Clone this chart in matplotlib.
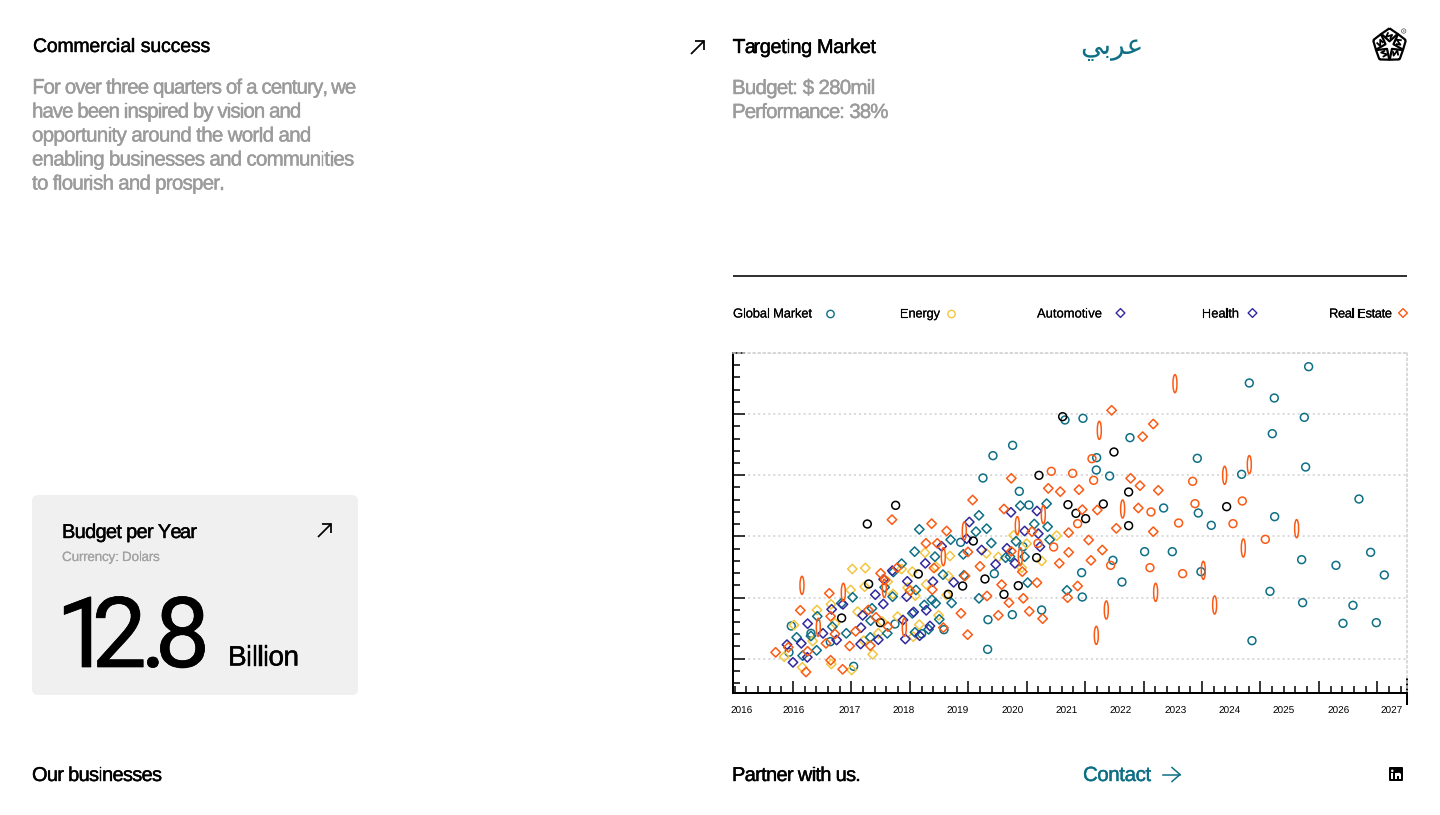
import numpy as np
import matplotlib
matplotlib.use("Agg")
import matplotlib.pyplot as plt
from matplotlib.text import Text
from matplotlib.transforms import IdentityTransform, Bbox, Affine2D
from matplotlib.patches import FancyBboxPatch, Rectangle, Polygon, Circle
from matplotlib.path import Path
from matplotlib.ticker import FixedLocator, NullFormatter
import matplotlib.patheffects as pe

plt.rcParams["text.hinting"] = "no_hinting"
plt.rcParams["text.hinting_factor"] = 1

FONT = "Liberation Sans"
TEAL = "#0e6f85"
YELLOW = "#f3c63f"
NAVY = "#30289c"
ORANGE = "#fb5a14"
GREY = "#9b9b9b"

# Values, in chart units (x 0-2022, y 0-1020)
global_market_x = [174,167,233,291,361,485,565,632,682,763,764,783,749,779,838,858,887,837,925,995,869,1049,1190,1090,1089,1129,1392,1525,1548,1623,1726,1713,1617,1717,1877,1291,1395,1434,1624,1234,1317,1139,1045,1166,1047,1403,1705,1808,1912,1953,1610,1708,1859,1829,1929,1556]
global_market_y = [201,122,179,154,80,207,178,190,452,131,220,358,645,712,743,605,564,235,249,819,439,824,766,706,669,651,704,656,930,885,979,827,778,678,582,555,540,503,529,424,424,398,361,333,288,364,400,383,422,354,305,271,263,209,211,157]

black_x = [325,402,406,487,441,555,645,688,720,755,812,855,910,917,988,1004,1028,1142,1186,1057,1110,1186,1480]
black_y = [225,507,327,563,211,357,296,321,456,342,296,322,406,653,829,565,539,723,603,523,567,502,559]

outlier_x = [1325,1098,1548,1474,1168,1690,1530,1410,1267,1444,1119,1089,206,330,255,453,513,630,693,852,861,930]
outlier_y = [928,788,685,653,552,493,435,368,302,264,249,173,323,302,197,314,197,409,486,502,409,535]

orange_circle_x = [1018,1076,1081,1033,1378,1385,1253,1336,1527,1499,1596,1132,1250,1348,954,961,914]
orange_circle_y = [659,703,638,508,635,568,543,510,576,508,461,383,376,358,665,438,449]

real_estate_x = [1135,1260,1228,1192,1220,1275,1037,1047,1092,1215,1149,1260,1066,1107,1073,1033,1006,1006,1003,127,201,165,223,218,292,328,278,305,292,288,349,367,411,405,428,464,442,455,476,492,530,578,595,612,602,597,640,630,683,695,704,718,703,740,761,795,805,827,834,812,834,870,888,867,896,911,928,945,978,981]
real_estate_y = [848,807,769,644,622,608,610,550,549,555,494,484,459,429,398,321,481,422,286,122,248,137,125,63,98,71,149,177,230,299,141,185,142,249,227,199,359,339,520,376,307,449,508,449,375,310,486,196,239,351,423,579,175,380,291,233,325,271,425,552,644,284,245,364,484,331,223,614,389,604]

energy_x = [153,182,207,238,251,293,294,305,355,352,357,396,394,373,391,418,435,447,463,479,493,505,523,537,546,540,558,575,579,608,616,640,645,650,759,795,841,865,880,925,970]
energy_y = [109,204,77,156,249,266,87,209,69,309,372,375,319,244,157,116,179,214,334,297,229,372,316,364,292,169,205,421,326,379,233,294,351,411,419,408,473,376,448,396,472]

automotive_health_x = [161,179,204,222,223,269,295,310,329,382,383,388,426,435,450,451,477,516,509,520,522,541,559,579,576,590,599,625,661,700,708,745,787,821,833,845,874,915,920,911]
automotive_health_y = [145,92,149,107,208,179,251,159,266,147,196,233,295,160,267,341,367,162,219,289,335,243,172,248,389,201,334,440,332,463,513,429,386,434,542,389,486,478,439,546]

teal_diamond_x = [190,208,250,252,233,297,339,358,324,411,412,416,454,462,478,480,505,544,558,548,537,545,573,586,596,607,605,618,629,652,655,690,692,728,737,760,774,737,817,830,848,861,874,883,903,940,943,949,1001]
teal_diamond_y = [167,112,128,230,171,199,179,287,269,167,217,254,317,179,289,363,388,424,491,309,239,182,264,191,280,269,409,221,355,460,270,416,353,484,533,493,450,284,406,409,455,562,409,331,507,568,499,460,308]

year_labels = ["2016","2016","2017","2018","2019","2020","2021","2022","2023","2024","2025","2026","2027"]
year_label_x = [26,182,350,512,674,838,1001,1163,1328,1490,1650,1815,1975]
legend_names = ["Global Market","Energy","Automotive","Health","Real Estate"]
paragraph = ["For over three quarters of a century, we","have been inspired by vision and","opportunity around the world and","enabling businesses and communities","to flourish and prosper."]


class FittedText(Text):
    """Text drawn with the letter-spacing that makes it a given pixel width."""
    def __init__(self, x, y, s, target, stroke=0.0, nudge=None, **kw):
        super().__init__(x, y, s, **kw)
        self.target = target
        self.stroke = stroke
        self.nudge = nudge or [0] * len(s)

    def draw(self, renderer):
        s = self.get_text()
        prop = self.get_fontproperties()
        natural = renderer.get_text_width_height_descent(s, prop, False)[0]
        track = (self.target - natural) / max(len(s) - 1, 1)
        x0, y0 = self.get_transform().transform(self.get_position())
        for i, ch in enumerate(s):
            adv = renderer.get_text_width_height_descent(s[:i], prop, False)[0] if i else 0
            t = Text(x0 + adv + i * track + self.nudge[i], y0, ch, fontproperties=prop, color=self.get_color(),
                     va="baseline", ha="left", transform=IdentityTransform())
            t.set_figure(self.get_figure())
            t.set_path_effects([pe.withStroke(linewidth=self.stroke, foreground=self.get_color())])
            t.draw(renderer)

    def get_window_extent(self, renderer=None, dpi=None):
        bb = super().get_window_extent(renderer, dpi)
        return Bbox.from_extents(bb.x0, bb.y0, bb.x0 + self.target, bb.y1)


fig = plt.figure(figsize=(14.4, 8.15), dpi=100, facecolor="white")
ui = fig.add_axes([0, 0, 1, 1], zorder=0)
ui.set_xlim(0, 1440)
ui.set_ylim(815, 0)
ui.axis("off")


def label(x, base, s, right, px, color="black", stroke=0.3, family=FONT, nudge=None):
    t = FittedText(x, base, s, right - x, stroke=stroke, nudge=nudge, fontsize=px * 0.72, family=family,
                   color=color, va="baseline", ha="left", transform=ui.transData)
    fig.add_artist(t)


def ne_arrow(x0, y0, x1, y1):
    ui.plot([x0, x1], [y0, y1], color="black", lw=1.25, solid_capstyle="butt")
    ui.plot([x1 - 9, x1, x1], [y1, y1, y1 + 9], color="black", lw=1.25, solid_joinstyle="miter", solid_capstyle="butt")


# left column
label(33, 52, "Commercial success", 210, 19.5)
for i, (line, right) in enumerate(zip(paragraph, [356, 301, 311, 354, 224])):
    label(32, 93.5 + 24 * i, line, right, 20.5, GREY)
label(32, 781, "Our businesses", 162, 20)
ne_arrow(691, 54, 704, 41)

# card
ui.add_patch(FancyBboxPatch((38, 501), 314, 188, boxstyle="round,pad=6,rounding_size=6",
                            fc="#f0f0f0", ec="none"))
label(62, 538, "Budget per Year", 197, 20)
label(62, 561, "Currency: Dolars", 160, 13.5, "#a2a2a2", 0.1)
label(56, 667, "12.8", 210, 98, "black", 0.5, "Roboto", nudge=[0, -7, -1, 0])
label(228, 665.5, "Billion", 299, 28)
ne_arrow(318, 537, 331, 524)

# right column
label(733, 53, "Targeting Market", 876, 20)
label(732, 94, "Budget: $ 280mil", 875, 20.5, GREY)
label(732, 118, "Performance: 38%", 888, 20.5, GREY)
ui.text(1111.5, 54, "\ufef2\ufe91\ufeae\ufecb", family="DejaVu Sans", fontsize=20.3, color=TEAL,
        ha="center", va="baseline")
ui.plot([733, 1407], [275.5, 275.5], color="black", lw=1.15, solid_capstyle="butt")
label(732, 781, "Partner with us.", 861, 20)
label(1083, 781, "Contact", 1151, 20.5, TEAL)
ui.plot([1163, 1180], [774.5, 774.5], color=TEAL, lw=1.1)
ui.plot([1172, 1180, 1172], [767.5, 774.5, 781.5], color=TEAL, lw=1.1, solid_joinstyle="miter")

# logo
cx, cy = 1389.5, 45.5
for a in np.deg2rad(-90 + 72 * np.arange(5)):
    rot = np.array([[np.cos(a), -np.sin(a)], [np.sin(a), np.cos(a)]])
    kite = np.array([[17.2, 0], [11.6, 8.2], [4.2, 0], [11.6, -8.2], [17.2, 0]])
    zig = np.array([[13.2, -1.2], [8.6, -3.4], [10.6, 2.6], [6.6, 0.6]])
    for shape, w in ((kite, 1.6), (zig, 1.3)):
        pts = (rot @ shape.T).T + [cx, cy]
        ui.plot(pts[:, 0], pts[:, 1], color="black", lw=w, solid_joinstyle="round", solid_capstyle="butt")
ui.add_patch(Circle((1403.7, 31), 2.2, fc="none", ec="#555555", lw=0.5))
ui.add_patch(Circle((1403.7, 31), 0.7, fc="#555555", ec="none"))

# linkedin icon
ui.add_patch(FancyBboxPatch((1390, 768), 12, 12, boxstyle="round,pad=1,rounding_size=1", fc="black", ec="none"))
ui.add_patch(Rectangle((1391.3, 773), 2.1, 6, fc="white", ec="none"))
ui.add_patch(Circle((1392.3, 770.8), 1.25, fc="white", ec="none"))
ui.add_patch(Rectangle((1395, 773), 2, 6, fc="white", ec="none"))
ui.add_patch(Rectangle((1399, 775), 2, 4, fc="white", ec="none"))
ui.add_patch(Polygon([[1396.5, 773], [1399.5, 772.8], [1401, 774], [1401, 776], [1396.5, 776]], fc="white", ec="none"))

# scatter axes
ax = fig.add_axes([733.3 / 1440, (815 - 693) / 815, 674 / 1440, 340 / 815], zorder=1)
ax.patch.set_alpha(0)
ax.set_xlim(0, 2022)
ax.set_ylim(0, 1020)
xmaj = [179 + 175.3 * k for k in range(11)]
xmin = [179 + 35.06 * k for k in range(-5, 53)]
ymaj = [103 + 183.4 * k for k in range(6)]
ymin = [103 + 36.68 * k for k in range(-2, 26)]
ax.xaxis.set_major_locator(FixedLocator(xmaj))
ax.xaxis.set_minor_locator(FixedLocator([v for v in xmin if v < 2022]))
ax.yaxis.set_major_locator(FixedLocator(ymaj))
ax.yaxis.set_minor_locator(FixedLocator([v for v in ymin if v <= 1020]))
ax.xaxis.set_major_formatter(NullFormatter())
ax.yaxis.set_major_formatter(NullFormatter())
ax.tick_params(which="major", direction="in", length=8.6, width=1.1, color="black")
ax.tick_params(which="minor", direction="in", length=4.8, width=1.1, color="black")
DOTS = (0, (1.3, 2.0))
ax.grid(axis="y", which="major", color="#d0d0d0", lw=1.1, linestyle=DOTS, zorder=0.5)
for side in ("left", "bottom"):
    ax.spines[side].set_linewidth(1.45)
for side in ("top", "right"):
    ax.spines[side].set_color("#d0d0d0")
    ax.spines[side].set_linewidth(1.1)
    ax.spines[side].set_linestyle(DOTS)
ax.set_axisbelow(True)

ellipse = Path.unit_circle().transformed(Affine2D().scale(0.22, 1))
LW = 1.1
C_S, D_S = 32, 23
ax.scatter(global_market_x, global_market_y, s=C_S, marker="o", fc="none", ec=TEAL, lw=LW, zorder=3)
ax.scatter(energy_x, energy_y, s=D_S, marker="D", fc="none", ec=YELLOW, lw=LW, zorder=3)
ax.scatter(teal_diamond_x, teal_diamond_y, s=D_S, marker="D", fc="none", ec=TEAL, lw=LW, zorder=3)
ax.scatter(automotive_health_x, automotive_health_y, s=D_S, marker="D", fc="none", ec=NAVY, lw=LW, zorder=3)
ax.scatter(black_x, black_y, s=C_S, marker="o", fc="none", ec="black", lw=LW, zorder=3)
ax.scatter(real_estate_x, real_estate_y, s=D_S, marker="D", fc="none", ec=ORANGE, lw=LW, zorder=3)
ax.scatter(orange_circle_x, orange_circle_y, s=C_S, marker="o", fc="none", ec=ORANGE, lw=LW, zorder=3)
ax.scatter(outlier_x, outlier_y, s=170, marker=ellipse, fc="none", ec=ORANGE, lw=LW, zorder=3)

sec = ax.secondary_xaxis("bottom")
sec.set_xticks(year_label_x, year_labels, family=FONT, fontsize=7.1)
sec.tick_params(length=0, pad=10)
sec.spines["bottom"].set_visible(False)

ui.plot([1407.3, 1407.3], [678, 705], color="black", lw=1.45, solid_capstyle="butt", zorder=5)

# legend
legend_spec = [(733, 812, 830.5, "o", TEAL), (900, 940, 951.5, "o", YELLOW), (1037, 1102, 1120.5, "D", NAVY),
               (1202, 1239, 1252.5, "D", NAVY), (1329, 1392, 1403, "D", ORANGE)]
for name, (x0, x1, mx, m, c) in zip(legend_names, legend_spec):
    label(x0, 317.5, name, x1, 13, stroke=0.1)
    ui.scatter([mx], [314 if m == "o" else 313], s=28 if m == "o" else 20, marker=m, fc="none", ec=c, lw=1.0)

fig.savefig("out.png", dpi=100)
